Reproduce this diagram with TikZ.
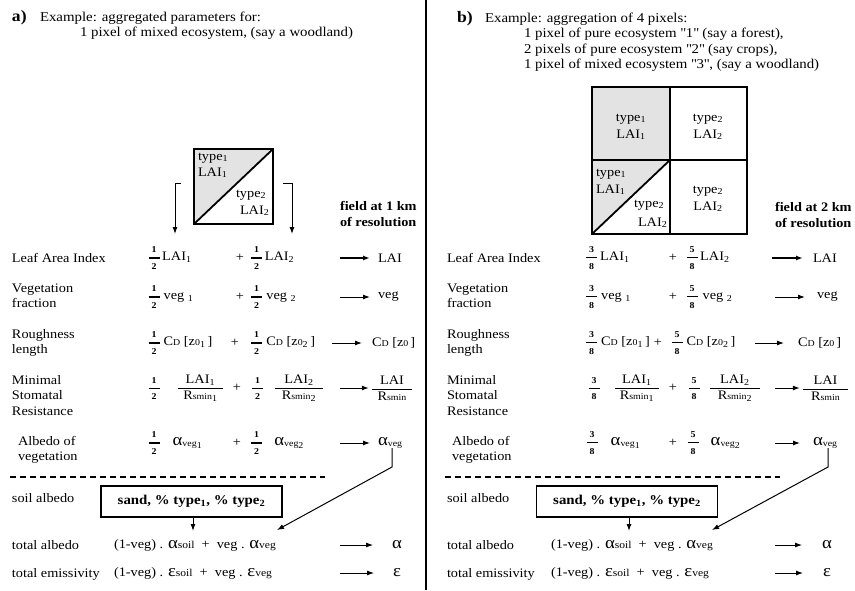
\documentclass[tikz,border=0pt]{standalone}
\usepackage{amsmath}
\usepackage{fontspec}
\setmainfont{Liberation Serif}[FakeStretch=1.1]
\usetikzlibrary{arrows.meta,calc}
\newcommand\sbs[1]{\textsubscript{#1}}
\newcommand\fr[2]{$\genfrac{}{}{1.2pt}{0}{\hbox to 11pt{\hss\fontsize{9}{9}\selectfont\bfseries #1\hss}}{\hbox to 11pt{\hss\fontsize{9}{9}\selectfont\bfseries #2\hss}}$}
\newcommand\bfr[3]{$\genfrac{}{}{0.8pt}{0}{\hbox to #1{\hss #2\hss}}{\hbox to #1{\hss #3\hss}}$}
\newcommand\av{{\fontsize{17}{17}\selectfont α}}
\newcommand\ep{{\fontsize{17}{17}\selectfont ε}}
\newcommand\smtxt[1]{{\fontsize{9}{9}\selectfont #1}}
\newcommand\mdtxt[1]{{\fontsize{10.5}{10.5}\selectfont #1}}
\newcommand\avg[1]{\av\raisebox{-0.5pt}{\smtxt{veg}}\raisebox{-3pt}{\smtxt{#1}}}
\newcommand\Rs{R\smtxt{smin}}
\newcommand\CD{C\smtxt{D}}
\newcommand\zz[1]{[z\smtxt{0}#1\,]}
\newcommand\qq[1]{\textquotedbl#1\textquotedbl}
\begin{document}
\begin{tikzpicture}[x=1pt,y=-1pt,
  every node/.style={inner sep=0pt,outer sep=0pt},
  txt/.style={font=\fontsize{13}{15.5}\selectfont},
  lbl/.style={txt,anchor=base west,align=left},
  hdr/.style={anchor=base west,align=left,font=\fontsize{13.5}{15.6}\selectfont},
  tag/.style={anchor=base west,font=\fontsize{16}{16}\selectfont\bfseries},
  frm/.style={txt,anchor=west},
  pls/.style={txt,anchor=center},
  fld/.style={anchor=base west,align=left,font=\fontsize{13}{16}\selectfont\bfseries},
  arw/.style={line width=1pt,-{Latex[length=7pt,width=5pt]}},
  arwb/.style={line width=1.8pt,-{Latex[length=7pt,width=5pt]}},
  sq/.style={draw,line width=1.8pt},
  shade/.style={fill=gray!22},
  bx/.style={draw,line width=1.6pt,minimum width=181pt,minimum height=31pt,font=\fontsize{13.5}{15}\selectfont\bfseries},
  dsh/.style={line width=1.2pt,dash pattern=on 6pt off 4pt},
]
\useasboundingbox (0,0) rectangle (855,590);
\draw[line width=1.5pt] (426,0) -- (426,590);

% ================= LEFT PANEL =================
\node[tag] (ta) at (12,21) {a)};
\node[hdr] (ha) at (40,36.6) {Example: aggregated parameters for:\\\hspace{40pt}1 pixel of mixed ecosystem, (say a woodland)};

% square
\node[minimum width=79pt,minimum height=75pt] (sqa) at (233.5,186.5) {};
\fill[shade] (sqa.north west) -- (sqa.north east) -- (sqa.south west) -- cycle;
\draw[line width=1.8pt] (sqa.south west) -- (sqa.north east);
\node[sq,minimum width=79pt,minimum height=75pt] at (sqa) {};
\node[lbl] (sa1) at (198,160) {type\sbs1};
\node[lbl] (sa2) at (198,176) {LAI\sbs1};
\node[lbl] (sa3) at (236,197) {type\sbs2};
\node[lbl] (sa4) at (240,214) {LAI\sbs2};
\coordinate (bl0) at (181,183);
\coordinate (bl1) at (175,234);
\coordinate (br0) at (283,183);
\coordinate (br1) at (292,234);
\draw[arw] (bl0) -| (bl1);
\draw[arw] (br0) -| (br1);
\node[fld] (fa) at (340,226) {field at 1 km\\of resolution};

% row labels
\node[lbl] (la1) at (12,262) {Leaf Area Index};
\node[lbl] (la2) at (12,307.5) {Vegetation\\fraction};
\node[lbl] (la3) at (12,353.5) {Roughness\\length};
\node[lbl] (la4) at (12,415) {Minimal\\Stomatal\\Resistance};
\node[lbl] (la5) at (18,460.5) {Albedo of\\vegetation};

% row 1
\node[frm] (a1l) at (147.3,258) {\fr12\hspace{1.5pt}LAI\sbs1};
\node[pls] (a1p) at (240,258) {+};
\node[frm] (a1r) at (250,258) {\fr12\hspace{1.5pt}LAI\sbs2};
\coordinate (a1s) at (340,258);
\node[frm] (a1o) at (378,258) {LAI};
\draw[arwb,shorten >=8pt] (a1s) -- (a1o);
% row 2
\node[frm] (a2l) at (147.3,297) {\fr12\hspace{3pt}veg \sbs1};
\node[pls] (a2p) at (240,297) {+};
\node[frm] (a2r) at (250,297) {\fr12\hspace{3pt}veg \sbs2};
\coordinate (a2s) at (340,297);
\node[frm] (a2o) at (378,297) {veg};
\draw[arw,shorten >=8pt] (a2s) -- (a2o);
% row 3
\node[frm] (a3l) at (147.3,343) {\fr12\hspace{3pt}\CD\ \zz{\sbs1}};
\node[pls] (a3p) at (235,343) {+};
\node[frm] (a3r) at (250,343) {\fr12\hspace{3pt}\CD\ \zz{\sbs2}};
\coordinate (a3s) at (332,343);
\node[frm] (a3o) at (372,343) {\CD\ \zz{}};
\draw[arw,shorten >=10pt] (a3s) -- (a3o);
% row 4
\node[frm] (a4l) at (147.3,388) {\fr12\hspace{16pt}\bfr{45pt}{LAI\sbs1}{\Rs\sbs1}};
\node[pls] (a4p) at (237,388) {+};
\node[frm] (a4r) at (250.8,388) {\fr12\hspace{9.6pt}\bfr{48pt}{LAI\sbs2}{\Rs\sbs2}};
\coordinate (a4s) at (340,388);
\node[frm] (a4o) at (370.8,388) {\bfr{40pt}{LAI}{\Rs}};
\draw[arw,shorten >=2pt] (a4s) -- (a4o);
% row 5
\node[frm] (a5l) at (147.3,443) {\fr12\hspace{12pt}\avg1};
\node[pls] (a5p) at (237,443) {+};
\node[frm] (a5r) at (250,443) {\fr12\hspace{11pt}\avg2};
\coordinate (a5s) at (340,443);
\node[frm] (a5o) at (378,443) {\av\raisebox{-0.5pt}{\smtxt{veg}}};
\draw[arw,shorten >=8pt] (a5s) -- (a5o);

\draw[dsh] (10,477) -- (325,477);

\node[lbl] (la6) at (12,502) {soil albedo};
\node[bx] (boxa) at (191.5,501.5) {sand, \% type\sbs1, \% type\sbs2};
\node[lbl] (la7) at (12,549) {total albedo};
\node[lbl] (la8) at (12,577) {total emissivity};
\node[frm] (a6f) at (114,545) {(1-veg) . \av\mdtxt{soil}\ \ +\ \ veg . \av\mdtxt{veg}};
\node[frm] (a7f) at (114,573) {(1-veg) . \ep\mdtxt{soil}\ \ +\ \ veg . \ep\mdtxt{veg}};
\coordinate (a6s) at (340,545);
\node[pls] (a6o) at (397,545) {\av};
\draw[arw,shorten >=19pt] (a6s) -- (a6o);
\coordinate (a7s) at (340,573);
\node[pls] (a7o) at (397,573) {\ep};
\draw[arw,shorten >=19pt] (a7s) -- (a7o);
\coordinate (tsa) at (193,531);
\draw[arw] (boxa.south -| tsa) -- (tsa);
\coordinate (tva) at (277,530);
\draw[arw] (a5o.south -| 392,0) -- (392,467) -- (tva);

% ================= RIGHT PANEL =================
\node[tag] (tb) at (457,22) {b)};
\node[hdr] (hb) at (485,68.8) {Example: aggregation of 4 pixels:\\
\hspace{39pt}1 pixel of pure ecosystem \qq{1} (say a forest),\\
\hspace{39pt}2 pixels of pure ecosystem \qq{2} (say crops),\\
\hspace{39pt}1 pixel of mixed ecosystem \qq{3}, (say a woodland)};

\node[minimum width=155pt,minimum height=147pt] (sqb) at (669.5,160.5) {};
\fill[shade] (sqb.north west) rectangle (670,160);
\fill[shade] (sqb.west |- 0,160) -- (670,160) -- (sqb.south west) -- cycle;
\draw[line width=1.8pt] (sqb.south west) -- (670,160);
\draw[line width=1.8pt] (sqb.north -| 670,0) -- (sqb.south -| 670,0);
\draw[line width=1.8pt] (sqb.west |- 0,160) -- (sqb.east |- 0,160);
\node[sq,minimum width=155pt,minimum height=147pt] at (sqb) {};
\node[txt,anchor=base] (sb1) at (631,121) {type\sbs1};
\node[txt,anchor=base] (sb2) at (631,138) {LAI\sbs1};
\node[txt,anchor=base] (sb3) at (708,121) {type\sbs2};
\node[txt,anchor=base] (sb4) at (708,138) {LAI\sbs2};
\node[lbl] (sb5) at (596,176) {type\sbs1};
\node[lbl] (sb6) at (596,193) {LAI\sbs1};
\node[lbl] (sb7) at (634,207) {type\sbs2};
\node[lbl] (sb8) at (638,226) {LAI\sbs2};
\node[txt,anchor=base] (sb9) at (708,193) {type\sbs2};
\node[txt,anchor=base] (sb10) at (708,210) {LAI\sbs2};
\node[fld] (fb) at (775,227) {field at 2 km\\of resolution};

\node[lbl] (lb1) at (447,262) {Leaf Area Index};
\node[lbl] (lb2) at (447,307.5) {Vegetation\\fraction};
\node[lbl] (lb3) at (447,353.5) {Roughness\\length};
\node[lbl] (lb4) at (447,415) {Minimal\\Stomatal\\Resistance};
\node[lbl] (lb5) at (452,460.5) {Albedo of\\vegetation};

% row 1
\node[frm] (b1l) at (584.8,258) {\fr38\hspace{2pt}LAI\sbs1};
\node[pls] (b1p) at (673,258) {+};
\node[frm] (b1r) at (685.3,258) {\fr58\hspace{1.5pt}LAI\sbs2};
\coordinate (b1s) at (772,258);
\node[frm] (b1o) at (813,258) {LAI};
\draw[arwb,shorten >=10pt] (b1s) -- (b1o);
% row 2
\node[frm] (b2l) at (584.8,297) {\fr38\hspace{3pt}veg \sbs1};
\node[pls] (b2p) at (673,297) {+};
\node[frm] (b2r) at (685.3,297) {\fr58\hspace{4pt}veg \sbs2};
\coordinate (b2s) at (775,297);
\node[frm] (b2o) at (817,297) {veg};
\draw[arw,shorten >=12pt] (b2s) -- (b2o);
% row 3
\node[frm] (b3l) at (584.8,343) {\fr38\hspace{3pt}\CD\ \zz{\sbs1}};
\node[pls] (b3p) at (658,343) {+};
\node[frm] (b3r) at (670.3,343) {\fr58\hspace{3pt}\CD\ \zz{\sbs2}};
\coordinate (b3s) at (755,343);
\node[frm] (b3o) at (798,343) {\CD\ \zz{}};
\draw[arw,shorten >=14pt] (b3s) -- (b3o);
% row 4
\node[frm] (b4l) at (587.3,388) {\fr38\hspace{13pt}\bfr{44pt}{LAI\sbs1}{\Rs\sbs1}};
\node[pls] (b4p) at (673,388) {+};
\node[frm] (b4r) at (687.3,388) {\fr58\hspace{8pt}\bfr{50pt}{LAI\sbs2}{\Rs\sbs2}};
\coordinate (b4s) at (775,388);
\node[frm] (b4o) at (801.8,388) {\bfr{45pt}{LAI}{\Rs}};
\draw[arw,shorten >=2pt] (b4s) -- (b4o);
% row 5
\node[frm] (b5l) at (585.3,443) {\fr38\hspace{12pt}\avg1};
\node[pls] (b5p) at (673,443) {+};
\node[frm] (b5r) at (686.3,443) {\fr58\hspace{11pt}\avg2};
\coordinate (b5s) at (775,443);
\node[frm] (b5o) at (813,443) {\av\raisebox{-0.5pt}{\smtxt{veg}}};
\draw[arw,shorten >=13pt] (b5s) -- (b5o);

\draw[dsh] (445,477) -- (780,477);

\node[lbl] (lb6) at (447,502) {soil albedo};
\node[bx] (boxb) at (627,501.5) {sand, \% type\sbs1, \% type\sbs2};
\node[lbl] (lb7) at (447,549) {total albedo};
\node[lbl] (lb8) at (447,577) {total emissivity};
\node[frm] (b6f) at (551,545) {(1-veg) . \av\mdtxt{soil}\ \ +\ \ veg . \av\mdtxt{veg}};
\node[frm] (b7f) at (551,573) {(1-veg) . \ep\mdtxt{soil}\ \ +\ \ veg . \ep\mdtxt{veg}};
\coordinate (b6s) at (775,545);
\node[pls] (b6o) at (827,545) {\av};
\draw[arw,shorten >=20pt] (b6s) -- (b6o);
\coordinate (b7s) at (775,573);
\node[pls] (b7o) at (827,573) {\ep};
\draw[arw,shorten >=20pt] (b7s) -- (b7o);
\coordinate (tsb) at (629,531);
\draw[arw] (boxb.south -| tsb) -- (tsb);
\coordinate (tvb) at (712,530);
\draw[arw] (b5o.south -| 828,0) -- (828,467) -- (tvb);
\end{tikzpicture}
\end{document}
